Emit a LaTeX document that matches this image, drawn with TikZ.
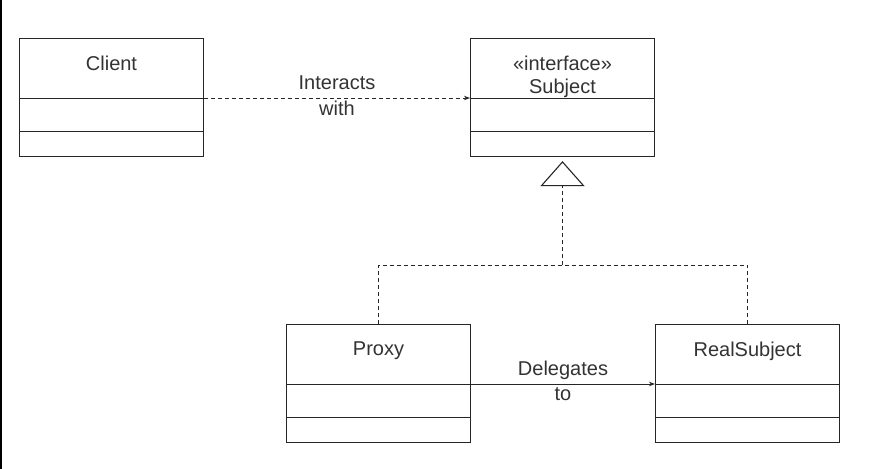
\documentclass[tikz,border=0pt]{standalone}
\usepackage{fontspec}
\setmainfont{Liberation Sans}
\usetikzlibrary{arrows.meta}

\definecolor{linegray}{HTML}{262626}
\definecolor{textgray}{HTML}{333333}

\tikzset{
   classbox/.style={draw=linegray, line width=1.1pt, minimum width=184pt,
      minimum height=118pt, anchor=north, inner sep=0pt},
   classtitle/.style={font=\fontsize{20}{23}\selectfont, text=textgray,
      align=center, anchor=north, inner sep=0pt},
   linklabel/.style={font=\fontsize{20}{23}\selectfont, text=textgray, inner sep=0pt},
   depline/.style={draw=linegray, line width=1pt, dash pattern=on 4pt off 3pt},
   assocline/.style={draw=linegray, line width=1pt},
   smalltip/.style={-{Stealth[length=6pt,width=4.5pt]}}
}

\begin{document}
\begin{tikzpicture}[x=1pt, y=-1pt]
\useasboundingbox (0,0) rectangle (871,469);
\fill[white] (0,0) rectangle (871,469);
\fill[black] (0,0) rectangle (2,469);

% classes: name / x / top / title
\foreach \nm/\cx/\cy/\txt in {
    client/111.5/38/{Client},
    subject/562.5/38/{«interface»\\Subject},
    proxy/378.5/324/{Proxy},
    real/747.5/324/{RealSubject}}
{
   \node[classbox] (\nm) at (\cx,\cy) {};
   \node[classtitle] (\nm-title) at ([yshift=-18pt]\nm.north) {\txt};
   \path (\nm.north west) ++(0,60) coordinate (\nm-aw)
         (\nm.north east) ++(0,60) coordinate (\nm-ae)
         (\nm.north west) ++(0,93) coordinate (\nm-bw)
         (\nm.north east) ++(0,93) coordinate (\nm-be);
   \draw[assocline] (\nm-aw) -- (\nm-ae);
   \draw[assocline] (\nm-bw) -- (\nm-be);
}

% client uses the interface
\draw[depline, smalltip] (client-ae) --
   node[linklabel, above=8pt] {Interacts}
   node[linklabel, below=3pt] {with} (subject-aw);

% proxy forwards to the real subject
\draw[assocline, smalltip] (proxy-ae) --
   node[linklabel, above=4pt] {Delegates}
   node[linklabel, below=3pt] {to} (real-aw);

% realization of the interface
\coordinate (junc) at (562.5,265);
\draw[depline] (proxy.north) |- (junc) -| (real.north);
\draw[depline, -{Triangle[open, length=25pt, width=44pt, line width=1.1pt]},
   shorten >=4pt] (junc) -- (subject.south);
\end{tikzpicture}
\end{document}
